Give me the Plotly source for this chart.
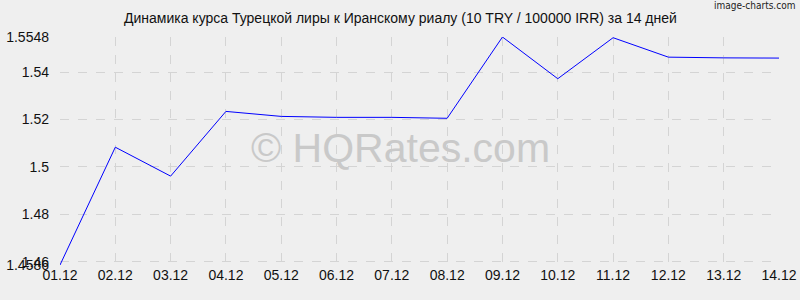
import plotly.graph_objects as go

dates = ["01.12", "02.12", "03.12", "04.12", "05.12", "06.12", "07.12",
         "08.12", "09.12", "10.12", "11.12", "12.12", "13.12", "14.12"]
rates = [1.4586, 1.5083, 1.4961, 1.5234, 1.5213, 1.5209, 1.5209,
         1.5205, 1.5548, 1.5372, 1.5545, 1.5463, 1.5460, 1.5459]
y_ticks = [1.4586, 1.46, 1.48, 1.5, 1.52, 1.54, 1.5548]
y_ticktext = ["1.4586", "1.46", "1.48", "1.5", "1.52", "1.54", "1.5548"]
title_text = "Динамика курса Турецкой лиры к Иранскому риалу (10 TRY / 100000 IRR) за 14 дней"

x_idx = list(range(len(dates)))

fig = go.Figure()
fig.add_trace(go.Scatter(x=x_idx, y=rates, mode="lines",
                         line=dict(color="#0000ff", width=1),
                         hoverinfo="skip", showlegend=False))

grid = "#d4d4d4"
fig.update_layout(
    width=800, height=300,
    margin=dict(l=60, r=21, t=37, b=35),
    paper_bgcolor="#efefef", plot_bgcolor="#efefef",
    font=dict(family="Liberation Sans, Arial, sans-serif", size=13, color="#111111"),
    xaxis=dict(range=[0, len(dates) - 1], tickvals=x_idx, ticktext=dates,
               showgrid=True, gridcolor=grid, griddash="dash", gridwidth=1,
               zeroline=False, showline=False, ticks="", ticklen=0,
               automargin=False, tickfont=dict(size=14)),
    yaxis=dict(range=[min(y_ticks), max(y_ticks)], tickvals=y_ticks, ticktext=y_ticktext,
               showgrid=True, gridcolor=grid, griddash="dash", gridwidth=1,
               zeroline=False, showline=False, ticks="", ticklen=0,
               automargin=False, ticklabelstandoff=10, tickfont=dict(size=14)),
    annotations=[
        dict(text=title_text, xref="paper", yref="paper", x=(400 - 60) / 719,
             y=(265 - 18) / 228, xanchor="center", yanchor="middle",
             showarrow=False, font=dict(size=14, color="#111111"),
             ),
        dict(text="© HQRates.com", xref="paper", yref="paper",
             x=(400 - 60) / 719, y=(265 - 148) / 228, xanchor="center", yanchor="middle",
             showarrow=False, font=dict(size=41, color="#c9c9c9")),
        dict(text="image-charts.com", xref="paper", yref="paper",
             x=(797 - 60) / 719, y=(265 - 6) / 228, xanchor="right", yanchor="middle",
             showarrow=False, font=dict(family="DejaVu Sans Condensed", size=10, color="#222222")),
    ],
)
fig.write_html("out.html")
